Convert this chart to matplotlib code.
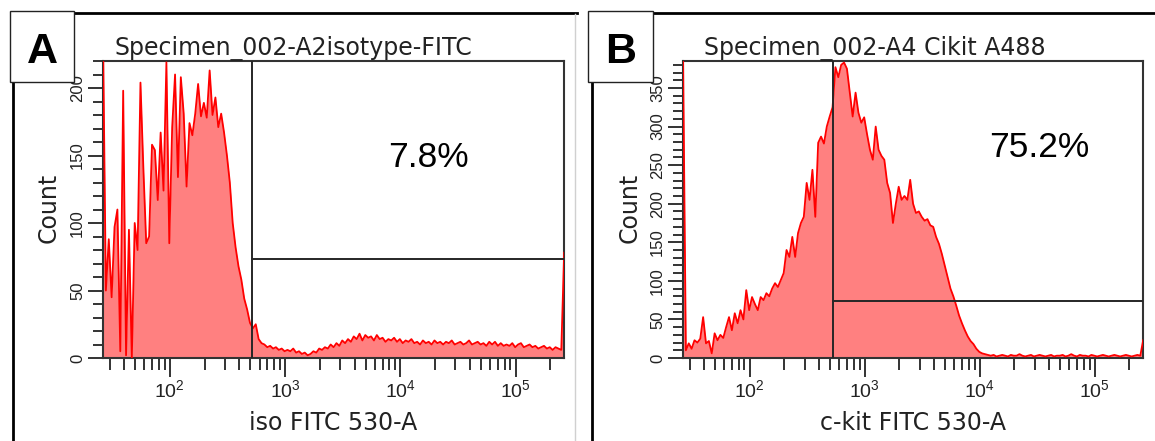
import numpy as np
import matplotlib
matplotlib.use("Agg")
from matplotlib import pyplot as plt
from matplotlib.ticker import MultipleLocator, LogLocator, FuncFormatter, NullFormatter
from matplotlib.lines import Line2D
from matplotlib.patches import Rectangle

plt.rcParams['font.family'] = ['Liberation Sans', 'DejaVu Sans']

# histogram channels (log10 of fluorescence), same binning for both tubes
chan = np.linspace(1.42, 5.42, 161)

# A: isotype control
counts_a = [240, 50, 88, 45, 97, 110, 5, 198, 2, 95,
            0, 100, 80, 204, 141, 85, 90, 158, 154, 117,
            167, 124, 219, 85, 171, 210, 134, 208, 181, 127,
            174, 165, 181, 203, 179, 189, 178, 213, 180, 193,
            171, 181, 167, 150, 130, 100, 82, 68, 58, 44,
            36, 26, 22, 25, 14, 11, 10, 8, 9, 7,
            8, 6, 7, 5, 6, 5, 7, 4, 5, 3,
            4, 2, 3, 5, 4, 7, 6, 8, 7, 10,
            8, 11, 9, 13, 11, 14, 12, 16, 14, 18,
            13, 17, 15, 16, 13, 17, 14, 15, 12, 14,
            13, 15, 12, 14, 11, 13, 12, 14, 11, 12,
            10, 13, 11, 12, 10, 13, 11, 12, 10, 12,
            11, 13, 10, 11, 12, 10, 11, 13, 10, 11,
            12, 10, 11, 9, 12, 10, 12, 9, 11, 9,
            10, 9, 11, 8, 10, 11, 8, 9, 10, 8,
            9, 7, 8, 9, 7, 8, 6, 8, 7, 6,
            78]

# B: c-kit stained
counts_b = [400, 10, 19, 12, 23, 20, 25, 53, 19, 22,
            6, 32, 23, 30, 26, 40, 53, 36, 58, 45,
            62, 50, 88, 62, 79, 70, 62, 79, 75, 84,
            80, 90, 97, 92, 101, 110, 140, 131, 157, 131,
            162, 175, 183, 227, 205, 244, 183, 279, 287, 278,
            300, 313, 325, 377, 364, 380, 383, 375, 344, 313,
            344, 318, 305, 312, 290, 270, 257, 300, 270, 262,
            257, 227, 214, 175, 200, 222, 205, 210, 205, 231,
            200, 188, 190, 183, 178, 180, 172, 170, 157, 148,
            135, 120, 105, 90, 80, 68, 55, 45, 36, 28,
            22, 18, 12, 8, 6, 5, 4, 3, 4, 2,
            3, 4, 3, 2, 4, 3, 3, 5, 3, 2,
            3, 4, 2, 3, 4, 3, 2, 3, 4, 2,
            3, 3, 4, 2, 3, 5, 3, 2, 4, 3,
            3, 2, 4, 3, 2, 3, 4, 3, 2, 3,
            4, 3, 2, 3, 4, 3, 2, 3, 4, 3,
            23]

panel_ids = ["A", "B"]
titles = ["Specimen_002-A2isotype-FITC", "Specimen_002-A4 Cikit A488"]
xlabels = ["iso FITC 530-A", "c-kit FITC 530-A"]
percents = ["7.8%", "75.2%"]
gate_x = [514, 525]
gate_y = [73, 74]
y_max = [220, 385]

W, H = 1155, 441
fig = plt.figure(figsize=(W / 100, H / 100), dpi=100)


def fx(px):
    return px / W


def fy(py):
    return 1 - py / H


axes_px = [(103, 564), (683, 1143)]
frame_px = [(10, 74, 13, 577), (588, 653, 592, 1155)]   # label box left/right, left rule x, top rule end
title_x = [0.414, 0.417]
pct_pos = [(0.707, 0.643), (0.775, 0.677)]
xmax = 262144

for k, counts in enumerate([counts_a, counts_b]):
    x0, x1 = axes_px[k]
    ax = fig.add_axes([fx(x0), fy(358), fx(x1 - x0), (358 - 61) / H])
    ax.set_xscale('log')
    xs = 10 ** chan
    ax.fill_between(xs, 0, counts, color='#ff8080', lw=0, zorder=2)
    ax.plot(xs, counts, color='#ff0000', lw=1.3, zorder=3)

    # gate
    ax.plot([gate_x[k], gate_x[k]], [0, y_max[k]], color='#262626', lw=1.4, zorder=4)
    ax.plot([gate_x[k], xmax], [gate_y[k], gate_y[k]], color='#262626', lw=1.4, zorder=4)

    ax.set_xlim(10 ** 1.42, xmax)
    ax.set_ylim(0, y_max[k])

    for s in ax.spines.values():
        s.set_color('#333333')
        s.set_linewidth(1.5)

    ax.xaxis.set_major_locator(LogLocator(base=10))
    ax.xaxis.set_minor_locator(LogLocator(base=10, subs=np.arange(2, 10)))
    ax.xaxis.set_major_formatter(FuncFormatter(lambda v, p: r'$\mathregular{10^{%d}}$' % round(np.log10(v))))
    ax.xaxis.set_minor_formatter(NullFormatter())
    ax.yaxis.set_major_locator(MultipleLocator(50))
    ax.yaxis.set_minor_locator(MultipleLocator(10))

    ax.tick_params(axis='x', which='major', length=14, width=1.4, color='#333333',
                   pad=1.5, labelsize=14, labelcolor='#222222')
    ax.tick_params(axis='x', which='minor', length=8.5, width=1.4, color='#333333')
    ax.tick_params(axis='y', which='major', length=11, width=1.4, color='#333333',
                   pad=2, labelsize=12, labelcolor='#222222', labelrotation=90)
    ax.tick_params(axis='y', which='minor', length=7, width=1.4, color='#333333')
    plt.setp(ax.get_yticklabels(), va='center')

    ax.set_ylabel('Count', fontsize=17, family='DejaVu Sans', color='#222222')
    ax.yaxis.set_label_coords(-0.117, 0.505)
    ax.yaxis.label.set_va('center')
    ax.set_xlabel(xlabels[k], fontsize=17, family='DejaVu Sans', color='#222222')
    ax.xaxis.set_label_coords(0.5, -0.219)
    ax.xaxis.label.set_va('center')

    ax.text(title_x[k], 1.0202, titles[k], transform=ax.transAxes, ha='center', va='baseline',
            fontsize=17, family='DejaVu Sans', color='#222222', clip_on=False)
    ax.text(pct_pos[k][0], pct_pos[k][1], percents[k], transform=ax.transAxes, ha='center',
            va='baseline', fontsize=25.5, family='Liberation Sans', color='black')

    # panel frame and letter box
    bl, br, lx, tr = frame_px[k]
    fig.add_artist(Line2D([fx(br), fx(tr)], [fy(13), fy(13)], color='black', lw=2))
    fig.add_artist(Line2D([fx(lx), fx(lx)], [fy(82), fy(441)], color='black', lw=2))
    fig.add_artist(Rectangle((fx(bl), fy(82)), fx(br - bl), 71 / H, facecolor='white',
                             edgecolor='#222222', lw=1, zorder=5))
    fig.text(fx((bl + br) / 2), fy(63), panel_ids[k], ha='center', va='baseline', fontsize=31,
             fontweight='bold', family='Liberation Sans', zorder=6)

fig.add_artist(Line2D([fx(575), fx(575)], [fy(14), fy(441)], color='#d0d0d0', lw=1))

fig.savefig('out.png', dpi=100)
